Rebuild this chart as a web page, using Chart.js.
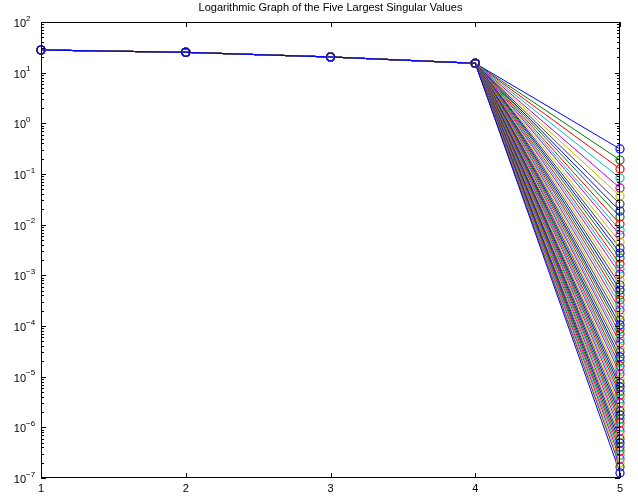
<!DOCTYPE html>
<html>
<head>
<meta charset="utf-8">
<script src="https://cdn.jsdelivr.net/npm/chart.js@4/dist/chart.umd.min.js"></script>
<style>
html,body{margin:0;padding:0;background:#fff;}
#wrap{width:638px;height:498px;}
</style>
</head>
<body>
<div id="wrap"><canvas id="c" width="638" height="498"></canvas></div>
<script>
const titleText = 'Logarithmic Graph of the Five Largest Singular Values';
const xCategories = [1, 2, 3, 4, 5];
const xTickLabels = ['1', '2', '3', '4', '5'];
const yTickExponents = [2, 1, 0, -1, -2, -3, -4, -5, -6, -7];
// first four singular values (shared by all curves)
const sharedValues = [28.0, 25.2, 20.4, 15.3];
// fifth singular value, one per curve (top to bottom)
const fifthValues = [
  0.312, 0.189, 0.126, 0.0834, 0.0530, 0.0368, 0.0256, 0.0186,
  0.0142, 0.0103, 0.00785, 0.00625, 0.00455, 0.00347, 0.00276, 0.00220,
  0.00167, 0.00133, 0.00106, 0.000810, 0.000645, 0.000514, 0.000409, 0.000326,
  0.000260, 0.000207, 0.000165, 0.000132, 0.000105, 8.73e-5, 6.96e-5, 5.55e-5,
  4.62e-5, 3.68e-5, 3.07e-5, 2.45e-5, 2.04e-5, 1.63e-5, 1.36e-5, 1.13e-5,
  9.0e-6, 7.5e-6, 6.26e-6, 5.22e-6, 4.35e-6, 3.63e-6, 3.03e-6, 2.52e-6,
  2.10e-6, 1.75e-6, 1.46e-6, 1.22e-6, 1.02e-6, 8.47e-7, 7.06e-7, 5.89e-7,
  4.91e-7, 4.09e-7, 3.41e-7, 2.85e-7, 2.38e-7, 1.98e-7, 1.65e-7, 1.26e-7
];
const colorOrder = ['#0000ff', '#008000', '#ff0000', '#00bfbf', '#bf00bf', '#bfbf00', '#404040'];

const N = fifthValues.length;
const lineSets = [];
const markerSets = [];
fifthValues.forEach((v, i) => {
  const vals = sharedValues.concat([v]);
  const col = colorOrder[i % colorOrder.length];
  const pts = xCategories.map((x, k) => ({x: x, y: vals[k]}));
  lineSets.push({
    data: pts,
    borderColor: col,
    backgroundColor: 'rgba(0,0,0,0)',
    borderWidth: 1,
    pointRadius: 0,
    tension: 0,
    clip: false,
    order: 2 * N - i
  });
  markerSets.push({
    data: pts,
    showLine: false,
    borderColor: col,
    backgroundColor: 'rgba(0,0,0,0)',
    pointRadius: 4,
    pointBorderWidth: 1.2,
    pointBorderColor: col,
    pointBackgroundColor: 'rgba(0,0,0,0)',
    clip: false,
    order: N - i
  });
});

const FONT = '"Liberation Sans", Arial, Helvetica, sans-serif';

const decor = {
  id: 'decor',
  beforeDraw(chart) {
    const ctx = chart.ctx;
    ctx.save();
    ctx.fillStyle = '#fff';
    ctx.fillRect(0, 0, chart.width, chart.height);
    ctx.restore();
  },
  afterDraw(chart) {
    const ctx = chart.ctx;
    const a = chart.chartArea;
    const xs = chart.scales.x, ys = chart.scales.y;
    ctx.save();
    ctx.strokeStyle = '#000';
    ctx.lineWidth = 1;
    // box
    ctx.strokeRect(Math.round(a.left) + 0.5, Math.round(a.top) + 0.5,
                   Math.round(a.right - a.left) - 1, Math.round(a.bottom - a.top) - 1);
    ctx.beginPath();
    // y ticks (major + minor), inward both sides
    for (let e = -7; e <= 2; e++) {
      for (let m = 1; m <= 9; m++) {
        const v = m * Math.pow(10, e);
        if (v > 100 * 1.0001 || v < 1e-7 * 0.9999) continue;
        const py = Math.round(ys.getPixelForValue(v)) + 0.5;
        const len = m === 1 ? 5 : 3;
        ctx.moveTo(a.left, py); ctx.lineTo(a.left + len, py);
        ctx.moveTo(a.right, py); ctx.lineTo(a.right - len, py);
      }
    }
    // x ticks, inward top and bottom
    xCategories.forEach(x => {
      const px = Math.round(xs.getPixelForValue(x)) + 0.5;
      ctx.moveTo(px, a.bottom); ctx.lineTo(px, a.bottom - 5);
      ctx.moveTo(px, a.top); ctx.lineTo(px, a.top + 5);
    });
    ctx.stroke();

    ctx.fillStyle = '#000';
    // y labels
    yTickExponents.forEach(e => {
      const py = ys.getPixelForValue(Math.pow(10, e));
      ctx.font = '11px ' + FONT;
      ctx.textAlign = 'right';
      ctx.textBaseline = 'alphabetic';
      ctx.fillText('10', a.left - 15, py + 5);
      ctx.font = '8px ' + FONT;
      ctx.textAlign = 'left';
      ctx.fillText(String(e).replace('-', '\u2212'), a.left - 15, py - 1.5);
    });
    // x labels
    ctx.font = '11px ' + FONT;
    ctx.textAlign = 'center';
    ctx.textBaseline = 'alphabetic';
    xCategories.forEach((x, i) => {
      ctx.fillText(xTickLabels[i], xs.getPixelForValue(x), a.bottom + 14);
    });
    // title
    ctx.fillText(titleText, (a.left + a.right) / 2, a.top - 11);
    ctx.restore();
  }
};

new Chart(document.getElementById('c'), {
  type: 'line',
  data: { datasets: lineSets.concat(markerSets) },
  options: {
    responsive: false,
    animation: false,
    devicePixelRatio: 1,
    layout: { padding: { left: 41, right: 18, top: 22, bottom: 20 } },
    plugins: { legend: { display: false }, tooltip: { enabled: false }, title: { display: false } },
    scales: {
      x: { type: 'linear', min: 1, max: 5, display: false },
      y: { type: 'logarithmic', min: 1e-7, max: 100, display: false }
    }
  },
  plugins: [decor]
});
</script>
</body>
</html>
